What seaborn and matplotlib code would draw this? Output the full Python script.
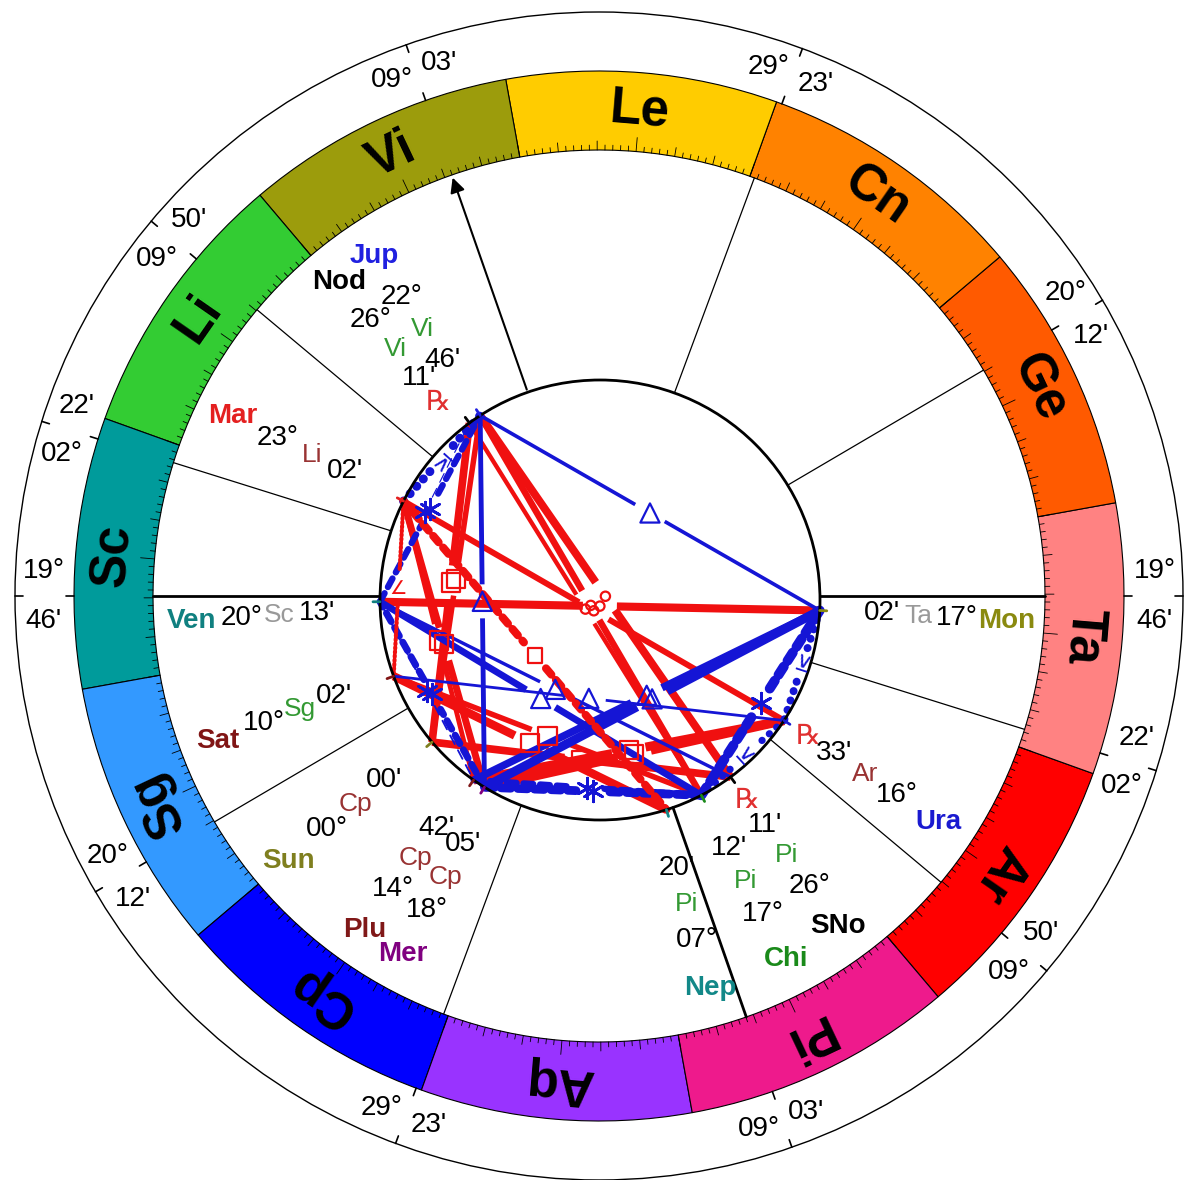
import numpy as np
import matplotlib
matplotlib.use("Agg")
import matplotlib.pyplot as plt
from matplotlib.patches import Wedge, Circle
import pandas as pd
import seaborn as sns

# zodiac ring, counted from Aries
signs = ["Ar", "Ta", "Ge", "Cn", "Le", "Vi", "Li", "Sc", "Sg", "Cp", "Aq", "Pi"]
sign_colors = ["#ff0000", "#ff8282", "#ff5a00", "#ff8200", "#ffcc00", "#9c9c0c",
               "#33cc33", "#009b9b", "#3399ff", "#0000ff", "#9933ff", "#ee1a8c"]
# small sign text next to the planets: cardinal, fixed, mutable
mode_colors = ["#993333", "#999999", "#339933"]

# planet positions
planets = ["Sun", "Mon", "Mer", "Ven", "Mar", "Jup", "Sat", "Ura", "Nep", "Plu", "Nod", "SNo", "Chi"]
planet_sign = ["Cp", "Ta", "Cp", "Sc", "Li", "Vi", "Sg", "Ar", "Pi", "Cp", "Vi", "Pi", "Pi"]
planet_deg = [0, 17, 18, 20, 23, 22, 10, 16, 7, 14, 26, 26, 17]
planet_min = [0, 2, 5, 13, 2, 46, 2, 33, 20, 42, 11, 11, 12]
planet_retro = [0, 0, 0, 0, 0, 0, 0, 1, 0, 0, 1, 1, 0]
planet_colors = ["#7f7f1f", "#8a8a10", "#800080", "#108080", "#e42020", "#2020e0",
                 "#801515", "#1a1ad0", "#128888", "#801818", "#000000", "#000000", "#1a8a1a"]

# house cusps 1..12
cusp_sign = ["Sc", "Sg", "Cp", "Pi", "Ar", "Ta", "Ta", "Ge", "Cn", "Vi", "Li", "Sc"]
cusp_deg = [19, 20, 29, 9, 9, 2, 19, 20, 29, 9, 9, 2]
cusp_min = [46, 12, 23, 3, 50, 22, 46, 12, 23, 3, 50, 22]

# aspects drawn in the middle
aspect_p1 = ["Mon", "Jup", "Jup", "Nod", "Mar",
             "Mer", "Plu", "Sun", "Sun", "Sun", "Sat", "Sat", "Mar", "Mar",
             "Mon", "Mon", "Mon", "Jup", "Ven", "Ven", "Sat",
             "Mon", "Mer", "Plu", "Mer", "Ven", "Ven", "Ven",
             "Mar", "Mon", "Ura", "Mar", "Mar"]
aspect_p2 = ["Ven", "SNo", "Chi", "Chi", "Ura",
             "Ura", "Ura", "Nod", "Jup", "SNo", "Nep", "Chi", "Mer", "Plu",
             "Mer", "Plu", "Jup", "Mer", "Chi", "SNo", "Ura",
             "Chi", "Chi", "Chi", "Ven", "Jup", "Nod", "Plu",
             "Jup", "Ura", "Chi", "Sat", "Nep"]
aspect_kind = ["opp"] * 5 + ["sq"] * 9 + ["tri"] * 7 + ["sxt"] * 7 + ["ssx"] * 3 + ["ssq", "sesq"]

kind_angle = {"opp": 180, "sq": 90, "tri": 120, "sxt": 60, "ssx": 30, "ssq": 45, "sesq": 135}
kind_orb = {"opp": 14, "sq": 14, "tri": 8, "sxt": 6, "ssx": 2, "ssq": 3, "sesq": 3}
RED = "#f01010"
BLUE = "#1515d5"
kind_color = {"opp": RED, "sq": RED, "tri": BLUE, "sxt": BLUE, "ssx": BLUE, "ssq": RED, "sesq": RED}
kind_style = {"opp": "-", "sq": "-", "tri": "-", "sxt": (0, (7, 5)), "ssx": (0, (0.1, 7)),
              "ssq": (0, (1, 2)), "sesq": (0, (6, 5))}

# label nudges (degrees) where the chart spreads crowded labels
label_shift = {"Sun": 0.3, "Mon": -0.8, "Mer": 3.0, "Ven": 3.0, "Mar": 0.5, "Jup": 0.5,
               "Sat": 0.5, "Ura": -0.5, "Nep": -1.7, "Plu": 0.0, "Nod": 3.2, "SNo": -0.5, "Chi": -0.2}

sns.set_theme(style="white")
plt.rcParams['font.family'] = ['Liberation Sans', 'DejaVu Sans']
plt.rcParams['text.color'] = 'black'
plt.rcParams['lines.scale_dashes'] = False

CX, CY = 599, 584
ICX, ICY = 600, 580   # the aspect circle sits a little lower
R_OUT, R_RING_OUT, R_RING_IN, R_IN = 584, 525, 446, 220


def lon(sign, d, m):
    return 30 * signs.index(sign) + d + m / 60.0


ASC = lon(cusp_sign[0], cusp_deg[0], cusp_min[0])


def ang(l):
    return 180 + l - ASC


def pt(a, r, c=(CX, CY)):
    t = np.radians(a)
    return c[0] + r * np.cos(t), c[1] + r * np.sin(t)


def on_inner(a):
    # where the ray from the main centre meets the aspect circle
    t = np.radians(a)
    ux, uy = np.cos(t), np.sin(t)
    dx, dy = CX - ICX, CY - ICY
    b = dx * ux + dy * uy
    s = -b + np.sqrt(b * b - (dx * dx + dy * dy - R_IN ** 2))
    return CX + s * ux, CY + s * uy


fig = plt.figure(figsize=(11.87, 11.80), dpi=100)
ax = fig.add_axes([0, 0, 1, 1])
ax.set_xlim(0, 1187)
ax.set_ylim(0, 1180)
ax.axis("off")

ax.add_patch(Circle((CX, CY), R_OUT, fill=False, lw=1.0, ec="black"))

# sign ring
for i, s in enumerate(signs):
    a1, a2 = ang(30 * i), ang(30 * i + 30)
    ax.add_patch(Wedge((CX, CY), R_RING_OUT, a1, a2, width=R_RING_OUT - R_RING_IN,
                       fc=sign_colors[i], ec="black", lw=0.8))
    am = (a1 + a2) / 2
    x, y = pt(am, 487)
    ax.text(x, y, s, ha="center", va="center", fontsize=37, fontweight="bold",
            color="black", rotation=am - 90, rotation_mode="anchor")
for d in range(360):
    a = ang(d)
    ln = 14 if d % 15 == 0 else (9 if d % 5 == 0 else 5)
    x1, y1 = pt(a, R_RING_IN)
    x2, y2 = pt(a, R_RING_IN + ln)
    ax.plot([x1, x2], [y1, y2], color="black", lw=0.6)

ax.add_patch(Circle((ICX, ICY), R_IN, fill=False, lw=2.0, ec="black", zorder=3))

# house cusps
for i in range(12):
    a = ang(lon(cusp_sign[i], cusp_deg[i], cusp_min[i]))
    x1, y1 = on_inner(a)
    x2, y2 = pt(a, R_RING_IN)
    if i == 9:
        ax.annotate("", xy=(x2, y2), xytext=(x1, y1),
                    arrowprops=dict(arrowstyle="-|>", lw=1.5, color="black", mutation_scale=22))
    else:
        ax.plot([x1, x2], [y1, y2], color="black", lw=2.0 if i in (0, 3, 6) else 0.9)
    for r1, r2 in ((R_OUT, R_OUT - 8), (R_RING_OUT, R_RING_OUT + 8)):
        xa, ya = pt(a, r1)
        xb, yb = pt(a, r2)
        ax.plot([xa, xb], [ya, yb], color="black", lw=1.2)
    pa = pt(a + 2.6, 556)
    pb = pt(a - 2.6, 556)
    if abs(pa[0] - pb[0]) < 8:
        deg_at, min_at = (pa, pb) if pa[1] > pb[1] else (pb, pa)
    else:
        deg_at, min_at = (pa, pb) if pa[0] < pb[0] else (pb, pa)
    ax.text(*deg_at, f"{cusp_deg[i]:02d}°", ha="center", va="center", fontsize=20)
    ax.text(*min_at, f"{cusp_min[i]:02d}'", ha="center", va="center", fontsize=20)

# planet labels
plon = {}
for i, p in enumerate(planets):
    l = lon(planet_sign[i], planet_deg[i], planet_min[i])
    plon[p] = l
    a = ang(l)
    x1, y1 = pt(a, R_IN, (ICX, ICY))
    x2, y2 = pt(a, R_IN + 7, (ICX, ICY))
    ax.plot([x1, x2], [y1, y2], color=planet_colors[i], lw=2, zorder=4)
    la = a + label_shift[p]
    ax.text(*pt(la, 408), p, ha="center", va="center", fontsize=20, fontweight="bold",
            color=planet_colors[i])
    ax.text(*pt(la, 358), f"{planet_deg[i]:02d}°", ha="center", va="center", fontsize=20)
    ax.text(*pt(la, 320), planet_sign[i], ha="center", va="center", fontsize=19,
            color=mode_colors[signs.index(planet_sign[i]) % 3])
    ax.text(*pt(la, 283), f"{planet_min[i]:02d}'", ha="center", va="center", fontsize=20)
    if planet_retro[i]:
        ax.text(*pt(la, 252), "℞", ha="center", va="center", fontsize=20, color="#e03030",
                family=["DejaVu Sans"])

# aspect lines
glyphs = []
for p1, p2, k in zip(aspect_p1, aspect_p2, aspect_kind):
    sep = abs((plon[p1] - plon[p2] + 180) % 360 - 180)
    orb = abs(sep - kind_angle[k])
    w = 0.8 + 6.5 * max(0.0, 1 - orb / kind_orb[k])
    x1, y1 = pt(ang(plon[p1]), R_IN, (ICX, ICY))
    x2, y2 = pt(ang(plon[p2]), R_IN, (ICX, ICY))
    mx, my = (x1 + x2) / 2, (y1 + y2) / 2
    dist = np.hypot(x2 - x1, y2 - y1)
    ux, uy = (x2 - x1) / dist, (y2 - y1) / dist
    gap = 17
    for xs, ys in (([x1, mx - ux * gap], [y1, my - uy * gap]), ([mx + ux * gap, x2], [my + uy * gap, y2])):
        ax.plot(xs, ys, color=kind_color[k], lw=w, ls=kind_style[k],
                solid_capstyle="butt", dash_capstyle="round", zorder=2)
    glyphs.append((mx, my, k, np.degrees(np.arctan2(uy, ux))))

gdf = pd.DataFrame(glyphs, columns=["x", "y", "kind", "rot"])
marker_of = {"opp": "o", "sq": "s", "tri": "^", "sesq": "s"}
size_of = {"opp": 45, "sq": 170, "tri": 190, "sesq": 110}
for k in marker_of:
    sub = gdf[gdf["kind"] == k]
    if len(sub):
        sns.scatterplot(data=sub, x="x", y="y", marker=marker_of[k], s=size_of[k],
                        facecolors="none", edgecolor=kind_color[k], linewidth=1.6,
                        ax=ax, zorder=5, legend=False)
sub = gdf[gdf["kind"] == "sxt"]
ax.scatter(sub["x"], sub["y"], marker=(6, 2, 0), s=220, color=BLUE, linewidths=2, zorder=5)
for _, g in gdf[gdf["kind"] == "ssx"].iterrows():
    ax.text(g["x"], g["y"], "⊻", ha="center", va="center", fontsize=16, color=BLUE,
            rotation=g["rot"] + 90, family=["DejaVu Sans"], zorder=5)
for _, g in gdf[gdf["kind"] == "ssq"].iterrows():
    ax.text(g["x"], g["y"], "∠", ha="center", va="center", fontsize=14, color=RED,
            family=["DejaVu Sans"], zorder=5)

fig.savefig("out.png", dpi=100, facecolor="white")
